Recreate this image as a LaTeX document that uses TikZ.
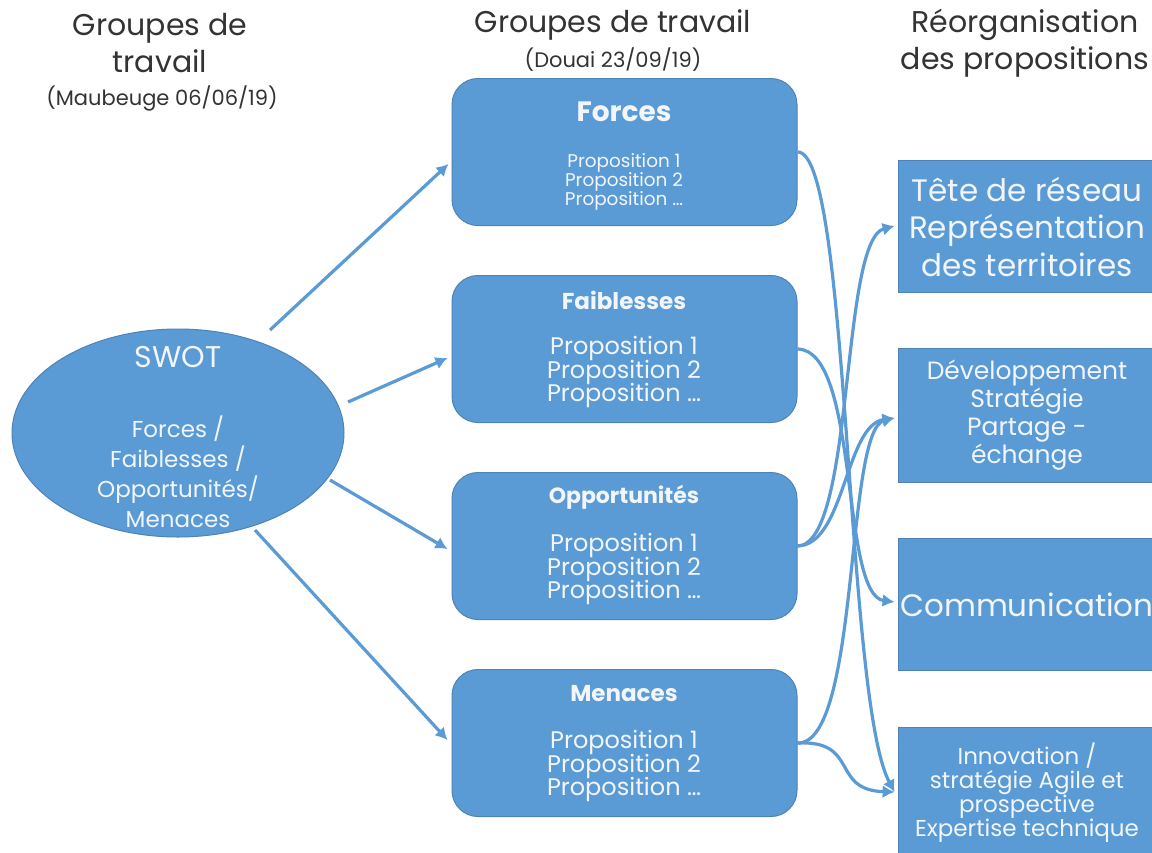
\documentclass[tikz,border=0pt]{standalone}
\usepackage{fontspec}
\setmainfont{Poppins}
\usetikzlibrary{arrows.meta,shapes.geometric,calc}
\definecolor{boxblue}{HTML}{5B9BD5}
\definecolor{txtw}{HTML}{F2F6FB}
\definecolor{titlegray}{HTML}{333333}
\lineskiplimit=-20pt
\begin{document}
\begin{tikzpicture}[x=0.5pt,y=-0.5pt,
  title/.style={text=titlegray,align=center,inner sep=0pt},
  midbox/.style={draw=boxblue!85!black,line width=0.5pt,fill=boxblue,rounded corners=13pt,minimum width=172.5pt,minimum height=73.5pt,inner sep=0pt},
  rbox/.style={draw=boxblue!85!black,line width=0.4pt,fill=boxblue,minimum width=129pt,inner sep=0pt},
  wtxt/.style={text=txtw,align=center,inner sep=0pt},
  arr/.style={draw=boxblue,line width=1.6pt,-{Latex[length=6pt,width=6.5pt]}},
]
\useasboundingbox (0,0) rectangle (1152,852);
\clip (0,0) rectangle (1152,852);
\fill[white] (0,0) rectangle (1152,852);

% column titles
\node[title,font=\fontsize{15}{18.5}\selectfont] (t1) at (160,43) {Groupes de\\travail};
\node[title,font=\fontsize{10.5}{12}\selectfont] (t1b) at (162,98) {(Maubeuge 06/06/19)};
\node[title,font=\fontsize{15}{18.5}\selectfont] (t2) at (613,25) {Groupes de travail};
\node[title,font=\fontsize{10.5}{12}\selectfont] (t2b) at (613,60) {(Douai 23/09/19)};
\node[title,font=\fontsize{15}{18.5}\selectfont] (t3) at (1025,43) {Réorganisation\\des propositions};

% SWOT ellipse
\node[ellipse,draw=boxblue!85!black,line width=0.5pt,fill=boxblue,minimum width=166pt,minimum height=104pt,inner sep=0pt] (swot) at (178,433) {};
\node[wtxt,font=\fontsize{15}{17}\selectfont] (swott) at (178,357) {SWOT};
\node[wtxt,font=\fontsize{11.5}{15}\selectfont] (swotl) at (178,472) {Forces /\\Faiblesses /\\Opportunités/\\Menaces};

% middle boxes
\node[midbox] (forces) at (624.5,152) {};
\node[midbox] (faib) at (624.5,349) {};
\node[midbox] (opp) at (624.5,546) {};
\node[midbox] (men) at (624.5,743) {};

\node[wtxt,font=\fontsize{14}{15}\selectfont\bfseries] (forcest) at (624,112) {Forces};
\node[wtxt,font=\fontsize{9.2}{9.5}\selectfont] (forcesp) at (624,182) {Proposition 1\\Proposition 2\\Proposition \dots};
\node[wtxt,font=\fontsize{11.5}{12}\selectfont\bfseries] (faibt) at (624,300) {Faiblesses};
\node[wtxt,font=\fontsize{12}{11.7}\selectfont] (faibp) at (624,372) {Proposition 1\\Proposition 2\\Proposition \dots};
\node[wtxt,font=\fontsize{11}{12}\selectfont\bfseries] (oppt) at (624,497) {Opportunités};
\node[wtxt,font=\fontsize{12}{11.7}\selectfont] (oppp) at (624,569) {Proposition 1\\Proposition 2\\Proposition \dots};
\node[wtxt,font=\fontsize{11.5}{12}\selectfont\bfseries] (ment) at (624,694) {Menaces};
\node[wtxt,font=\fontsize{12}{11.7}\selectfont] (menp) at (624,766) {Proposition 1\\Proposition 2\\Proposition \dots};

% right boxes
\node[rbox,minimum height=66pt] (tete) at (1027,226) {};
\node[rbox,minimum height=67pt] (dev) at (1027,415) {};
\node[rbox,minimum height=66pt] (comm) at (1027,604) {};
\node[rbox,minimum height=68pt] (inno) at (1027,795) {};

\node[wtxt,font=\fontsize{15.5}{18.8}\selectfont] (tetet) at (1027,227) {Tête de réseau\\Représentation\\des territoires};
\node[wtxt,font=\fontsize{12.5}{14}\selectfont] (devt) at (1027,415) {Développement\\Stratégie\\Partage -\\échange};
\node[wtxt,font=\fontsize{15.5}{18}\selectfont] (commt) at (1027,605) {Communication};
\node[wtxt,font=\fontsize{11.5}{12}\selectfont] (innot) at (1027,793) {Innovation /\\stratégie Agile et\\prospective\\Expertise technique};

% arrows from SWOT
\coordinate (s1) at (270,330);
\coordinate (s2) at (348,402);
\coordinate (s3) at (330,480);
\coordinate (s4) at (255,530);
\draw[arr] (s1) -- ($(forces.west)+(-3,12)$);
\draw[arr] (s2) -- ($(faib.west)+(-4,9)$);
\draw[arr] (s3) -- ($(opp.west)+(-4,3)$);
\draw[arr] (s4) -- ($(men.west)+(-4,-3)$);

% reorganisation curves
\draw[arr] (forces.east) .. controls (850,150) and (845,700) .. ($(inno.west)+(-3,-3)$);
\draw[arr] (faib.east) .. controls (860,350) and (840,595) .. ($(comm.west)+(-3,-2)$);
\draw[arr] (opp.east) .. controls (855,545) and (840,240) .. ($(tete.west)+(-3,0)$);
\draw[arr] (opp.east) .. controls (845,545) and (845,425) .. ($(dev.west)+(-3,3)$);
\draw[arr] (men.east) .. controls (860,745) and (845,430) .. ($(dev.west)+(-3,3)$);
\draw[arr] (men.east) .. controls (860,740) and (830,790) .. ($(inno.west)+(-3,-3)$);
\end{tikzpicture}
\end{document}
